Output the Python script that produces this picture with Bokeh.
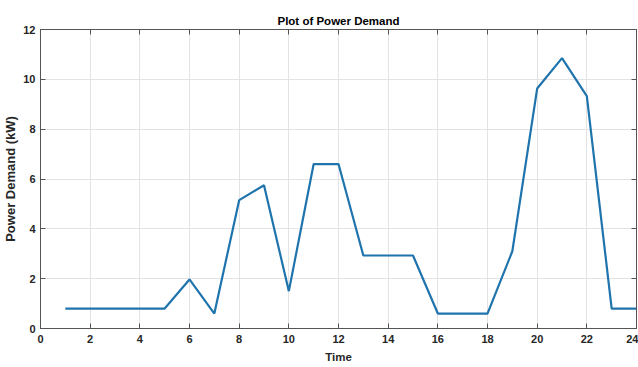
from bokeh.plotting import figure
from bokeh.models import LinearAxis, Range1d, FixedTicker
from bokeh.embed import file_html
from bokeh.resources import INLINE

hours = [1, 2, 3, 4, 5, 6, 7, 8, 9, 10, 11, 12, 13, 14, 15, 16, 17, 18, 19, 20, 21, 22, 23, 24]
demand = [0.8, 0.8, 0.8, 0.8, 0.8, 1.97, 0.6, 5.15, 5.75, 1.5, 6.6, 6.6, 2.93, 2.93, 2.93,
          0.6, 0.6, 0.6, 3.1, 9.63, 10.85, 9.33, 0.8, 0.8]
x_ticks = [0, 2, 4, 6, 8, 10, 12, 14, 16, 18, 20, 22, 24]
y_ticks = [0, 2, 4, 6, 8, 10, 12]

FONT = "Liberation Sans, Arial, sans-serif"
TXT = "#262626"

p = figure(width=638, height=367, output_backend="svg", toolbar_location=None,
           x_range=Range1d(0, 24), y_range=Range1d(0, 12),
           min_border_left=38, min_border_right=2, min_border_top=29, min_border_bottom=39)

p.title.text = "Plot of Power Demand"
p.title.align = "center"
p.title.text_font = FONT
p.title.text_font_size = "11.5px"
p.title.text_font_style = "bold"
p.title.text_color = "#000000"
p.title.standoff = 6

p.line(hours, demand, line_color="#1f74ad", line_width=2.2)

for ax, ticks in ((p.xaxis[0], x_ticks), (p.yaxis[0], y_ticks)):
    ax.ticker = FixedTicker(ticks=ticks)
    ax.major_tick_in = 5
    ax.major_tick_out = 0
    ax.minor_tick_line_color = None
    ax.axis_line_color = "#555555"
    ax.major_tick_line_color = "#555555"
    ax.major_label_text_font = FONT
    ax.major_label_text_font_size = "11px"
    ax.major_label_text_font_style = "bold"
    ax.major_label_text_color = TXT
    ax.axis_label_text_font_style = "bold"
    ax.axis_label_text_color = TXT

p.xaxis.major_label_standoff = 6
p.yaxis.major_label_standoff = 5
p.xaxis.axis_label = "Time"
p.xaxis.axis_label_text_font = FONT
p.xaxis.axis_label_text_font_size = "11.5px"
p.xaxis.axis_label_standoff = 5
p.yaxis.axis_label = "Power Demand (kW)"
p.yaxis.axis_label_text_font = FONT
p.yaxis.axis_label_text_font_size = "13px"
p.yaxis.axis_label_standoff = 2

for loc, ticks in (("right", y_ticks), ("above", x_ticks)):
    ax = LinearAxis(ticker=FixedTicker(ticks=ticks))
    ax.major_label_overrides = {t: "" for t in ticks}
    ax.major_label_standoff = 0
    ax.major_tick_in = 5
    ax.major_tick_out = 0
    ax.minor_tick_line_color = None
    ax.axis_line_color = "#555555"
    ax.major_tick_line_color = "#555555"
    p.add_layout(ax, loc)

p.xgrid.ticker = FixedTicker(ticks=x_ticks)
p.ygrid.ticker = FixedTicker(ticks=y_ticks)
p.grid.grid_line_color = "#e3e3e3"
p.grid.grid_line_width = 1
p.outline_line_color = "#555555"
p.background_fill_color = "white"
p.border_fill_color = "white"

open("out.html", "w").write(file_html(p, INLINE))
